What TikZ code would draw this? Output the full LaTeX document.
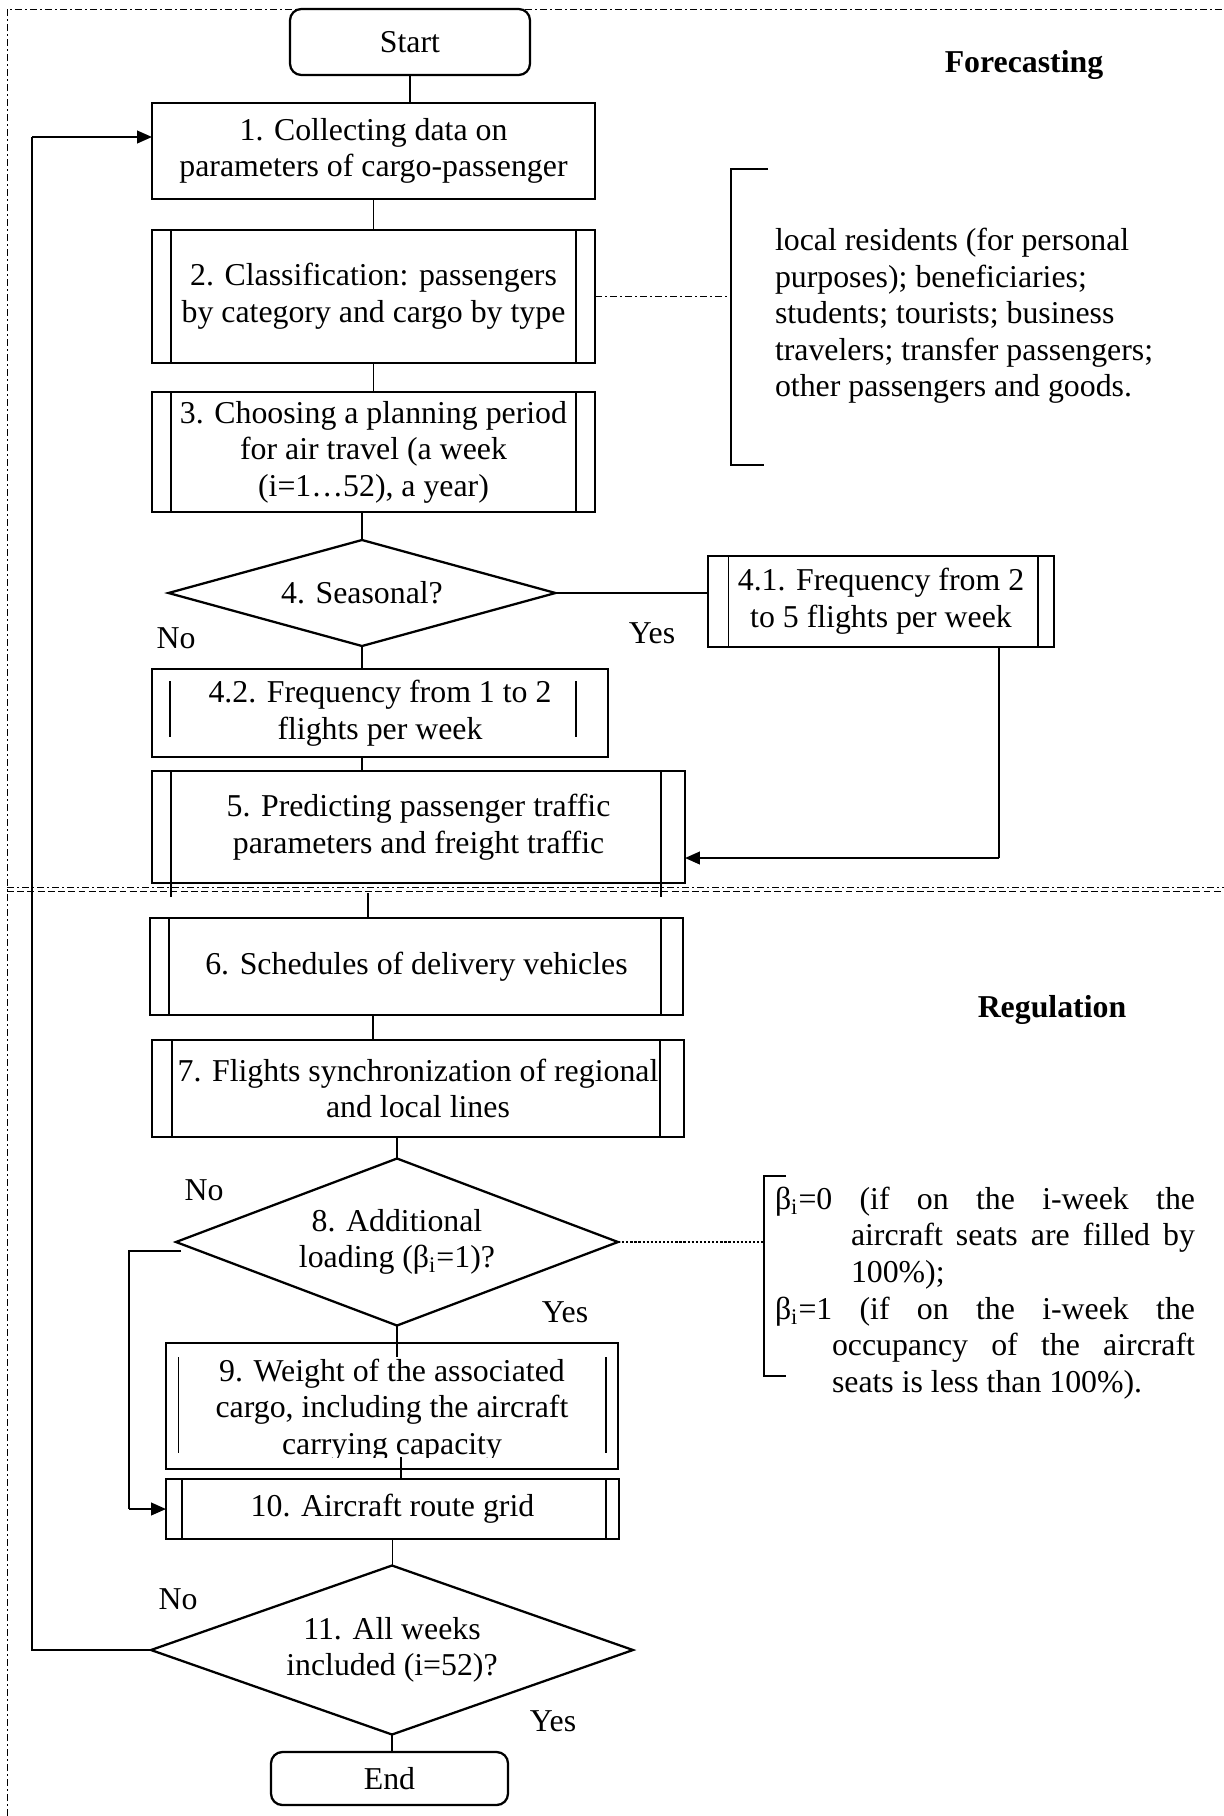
\documentclass[tikz,border=0pt]{standalone}
\usepackage{fontspec}
\setmainfont{Liberation Serif}
\usetikzlibrary{shapes.geometric,arrows.meta,calc}
\newcommand\unitpx{0.44pt}
\newcommand\pplines[5]{%
  \draw[inl] ($(#1.north west)+({#2},{#4})$) -- ($(#1.south west)+({#2},{-(#5)})$);
  \draw[inl] ($(#1.north east)+({-(#3)},{#4})$) -- ($(#1.south east)+({-(#3)},{-(#5)})$);}
\begin{document}
\begin{tikzpicture}[x=0.44pt,y=-0.44pt,
  font=\fontsize{14pt}{16.1pt}\selectfont,
  every node/.style={inner sep=0pt, outer sep=0pt},
  sz/.style 2 args={minimum width=#1*\unitpx, minimum height=#2*\unitpx},
  box/.style={draw, line width=1pt, rectangle, align=center},
  term/.style={draw, line width=1pt, rectangle, rounded corners=5pt, align=center},
  dec/.style={draw, line width=1pt, diamond, align=center},
  conn/.style={line width=0.5pt},
  arr/.style={line width=0.9pt, -{Triangle[length=6.5pt,width=5.5pt]}},
  inl/.style={line width=0.5pt},
  frame/.style={line width=0.4pt, dash pattern=on 3pt off 1.5pt on 0.6pt off 1.5pt},
  dashframe/.style={line width=0.4pt, dash pattern=on 3pt off 1.5pt},
  dotline/.style={line width=0.5pt, dash pattern=on 1pt off 0.8pt},
  hd/.style={font=\fontsize{14pt}{16.1pt}\selectfont\bfseries}]
\useasboundingbox (0,0) rectangle (1224,1816);

% frame lines
\draw[frame] (7,1816) -- (7,9) -- (1224,9);
\draw[frame] (7,887) -- (1224,887);
\draw[dashframe] (7,891) -- (1224,891);

% nodes
\node[term, sz={240}{66}] (start) at (410,42) {Start};
\node[box, sz={443}{96}] (b1) at (373.5,151) {1. Collecting data on\\parameters of cargo-passenger};
\node[box, sz={443}{133}] (b2) at (373.5,296.5) {2. Classification: passengers\\by category and cargo by type};
\node[box, sz={443}{120}] (b3) at (373.5,452) {3. Choosing a planning period\\for air travel (a week\\(i=1…52), a year)};
\node[dec, sz={387}{106}, aspect=3.65] (d4) at (362,593) {4. Seasonal?};
\node[box, sz={346}{91}] (b41) at (881,601.5) {4.1. Frequency from 2\\to 5 flights per week};
\node[box, sz={456}{88}] (b42) at (380,713) {4.2. Frequency from 1 to 2\\flights per week};
\node[box, sz={533}{112}] (b5) at (418.5,827) {5. Predicting passenger traffic\\parameters and freight traffic};
\node[box, sz={533}{97}] (b6) at (416.5,966.5) {6. Schedules of delivery vehicles};
\node[box, sz={532}{97}] (b7) at (418,1088.5) {7. Flights synchronization of regional\\and local lines};
\node[dec, sz={442}{167}, aspect=2.65] (d8) at (397,1242) {8. Additional\\loading (β\textsubscript{i}=1)?};
\node[box, sz={452}{126}] (b9) at (392,1406) {};
\begin{scope}
  \clip (166,1343) rectangle (618,1457);
  \node[align=center] (b9t) at (392,1410) {9. Weight of the associated\\cargo, including the aircraft\\carrying capacity};
\end{scope}
\node[box, sz={453}{60}] (b10) at (392.5,1509) {10. Aircraft route grid};
\node[dec, sz={482}{169}, aspect=2.85] (d11) at (392,1650) {11. All weeks\\included (i=52)?};
\node[term, sz={237}{53}] (end) at (389.5,1778.5) {End};

% predefined-process inner lines
\pplines{b2}{19}{19}{0}{0}
\pplines{b3}{19}{19}{0}{0}
\pplines{b41}{20.5}{16}{0}{0}
\pplines{b42}{18}{32}{12}{20}
\pplines{b5}{19}{24}{0}{-14}
\pplines{b6}{19}{22}{0}{0}
\pplines{b7}{20}{24}{0}{0}
\pplines{b9}{12.6}{12}{14}{16}
\pplines{b10}{16}{13}{0}{0}

% labels
\node (no4) at (176,638) {No};
\node (yes4) at (652,633) {Yes};
\node (no8) at (204,1190) {No};
\node (yes8) at (565,1312) {Yes};
\node (no11) at (178,1599) {No};
\node (yes11) at (553,1721) {Yes};
\node[hd] (fc) at (1024,65) {Forecasting};
\node[hd] (rg) at (1052,1010) {Regulation};

% side notes
\node[anchor=west, align=left] (note1) at (775,316) {local residents (for personal\\purposes); beneficiaries;\\students; tourists; business\\travelers; transfer passengers;\\other passengers and goods.};
\coordinate (br1) at (731,296.5);
\draw[conn] (768,169) -- (731,169) -- (731,465) -- (764,465);
\draw[frame] (b2.east) -- (br1);

\node[anchor=west, align=left] (note2) at (775,1293) {%
\hbox to 184.8pt{β\textsubscript{i}=0 (if on the i-week the}\\
\hbox{\hspace{33.44pt}\hbox to 151.36pt{aircraft seats are filled by}}\\
\hbox{\hspace{33.44pt}100\%);}\\
\hbox to 184.8pt{β\textsubscript{i}=1 (if on the i-week the}\\
\hbox{\hspace{25.08pt}\hbox to 159.72pt{occupancy of the aircraft}}\\
\hbox{\hspace{25.08pt}seats is less than 100\%).}};
\coordinate (br2) at (764,1242);
\draw[conn] (786,1176) -- (764,1176) -- (764,1376) -- (786,1376);
\draw[dotline] (d8.east) -- (br2);

% connectors
\draw[conn] (start.south) -- (start.south |- b1.north);
\draw[conn] (b1.south) -- (b2.north);
\draw[conn] (b2.south) -- (b3.north);
\draw[conn] (d4.north |- b3.south) -- (d4.north);
\draw[conn] (d4.east) -- (d4.east -| b41.west);
\coordinate (k1) at ($(b41.south)+(118,0)$);
\coordinate (k2) at ($(b5.east)+(0,31)$);
\draw[conn] (k1) -- (k1 |- k2);
\draw[arr] (k1 |- k2) -- (k2);
\draw[conn] (d4.south) -- (d4.south |- b42.north);
\draw[conn] (d4.south |- b42.south) -- (d4.south |- b5.north);
\draw[conn] ($(b6.north)+(-48.5,-25)$) -- ($(b6.north)+(-48.5,0)$);
\draw[conn] ($(b6.south)+(-43.5,0)$) -- ($(b7.north)+(-45,0)$);
\draw[conn] (d8.north |- b7.south) -- (d8.north);
\draw[conn] (d8.south) -- ($(d8.south |- b9.north)+(0,14)$);
\draw[conn] ($(b10.north)+(8.5,-22)$) -- ($(b10.north)+(8.5,0)$);
\coordinate (k3) at ($(d8.west)+(5,9)$);
\coordinate (k4) at ($(b10.west)+(-37,0)$);
\draw[conn] (k3) -| (k4);
\draw[arr] (k4) -- (b10.west);
\draw[conn] (b10.south) -- (b10.south |- d11.north);
\coordinate (k5) at ($(d11.west)+(-119,0)$);
\coordinate (k6) at ($(b1.west)+(0,-14)$);
\draw[conn] (d11.west) -- (k5) -- (k5 |- k6);
\draw[arr] (k5 |- k6) -- (k6);
\draw[conn] (d11.south) -- (d11.south |- end.north);
\end{tikzpicture}
\end{document}
